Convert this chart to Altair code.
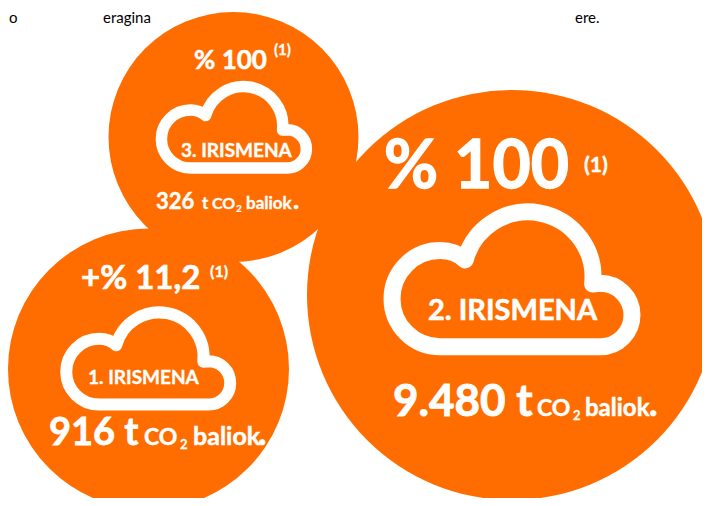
import altair as alt
import pandas as pd

ORANGE = "#FF6D00"
FONT = "Lato"

# circles
circle_x = [148.5, 233.5, 512]
circle_y = [369, 137, 295]
circle_d = [281, 250, 410]

# clouds
cloud_x = [148.7, 234.3, 512.7]
cloud_y = [357.8, 126.7, 278.3]
cloud_w = [164, 145, 240]
cloud_sw = [12, 11.5, 17]
CLOUD = ("M 0.666 0.047 A 0.542 0.542 0 0 0 -0.396 -0.153 Q -0.48 -0.231 -0.605 -0.231 "
         "A 0.4 0.4 0 0 0 -0.605 0.570 L 0.730 0.570 A 0.264 0.264 0 0 0 0.730 0.042 L 0.666 0.047")

# white labels
labels = ["% 100", "(1)", "3. IRISMENA", "326", "t", "CO", "2", "baliok", ".",
          "% 100", "(1)", "2. IRISMENA", "9.480 t", "CO", "2", "baliok", ".",
          "+% 11,2", "(1)", "1. IRISMENA", "916 t", "CO", "2", "baliok", "."]
label_x = [194, 274, 181, 156, 202, 212, 236, 246, 293,
           384, 584, 428, 393, 537, 573, 585, 649,
           81, 210, 88, 49, 144, 180, 193, 258]
label_y = [69, 55, 157, 209, 209, 209, 212, 209, 209,
           188, 172, 320, 416, 416, 420, 416, 416,
           289, 277, 384, 445, 445, 449, 445, 445]
label_fs = [26, 15, 19, 22, 17, 16, 10, 17, 26,
            66, 21, 29, 44, 23, 13, 24, 36,
            33, 16, 19, 38, 23, 13, 25, 36]

# page text at the top
top_text = ["eragina", "ere.", "o"]
top_x = [103, 575, 9]
top_y = [23, 23, 23]

X = alt.Scale(domain=[8, 702])
Y = alt.Scale(domain=[498, 8])

circles = alt.Chart(pd.DataFrame({"x": circle_x, "y": circle_y, "d": circle_d})).transform_calculate(
    s="datum.d*datum.d"
).mark_point(filled=True, shape="circle", color=ORANGE, opacity=1).encode(
    x=alt.X("x:Q", scale=X, axis=None),
    y=alt.Y("y:Q", scale=Y, axis=None),
    size=alt.Size("s:Q", scale=None, legend=None),
)

clouds = alt.Chart(pd.DataFrame({"x": cloud_x, "y": cloud_y, "w": cloud_w, "sw": cloud_sw})).transform_calculate(
    s="datum.w*datum.w"
).mark_point(filled=False, shape=CLOUD, stroke="white", opacity=1, strokeCap="round", strokeJoin="round").encode(
    x=alt.X("x:Q", scale=X, axis=None),
    y=alt.Y("y:Q", scale=Y, axis=None),
    size=alt.Size("s:Q", scale=None, legend=None),
    strokeWidth=alt.StrokeWidth("sw:Q", scale=None, legend=None),
)

texts = alt.Chart(pd.DataFrame({"t": labels, "x": label_x, "y": label_y, "fs": label_fs})).transform_calculate(
    sw="datum.fs*0.02"
).mark_text(
    align="left", baseline="alphabetic", font=FONT, fontWeight="bold", color="white", stroke="white"
).encode(
    x=alt.X("x:Q", scale=X, axis=None),
    y=alt.Y("y:Q", scale=Y, axis=None),
    size=alt.Size("fs:Q", scale=None, legend=None),
    strokeWidth=alt.StrokeWidth("sw:Q", scale=None, legend=None),
    text="t:N",
)

top = alt.Chart(pd.DataFrame({"t": top_text, "x": top_x, "y": top_y})).mark_text(
    align="left", baseline="alphabetic", font=FONT, fontSize=15, color="black"
).encode(
    x=alt.X("x:Q", scale=X, axis=None),
    y=alt.Y("y:Q", scale=Y, axis=None),
    text="t:N",
)

chart = alt.layer(top, circles, clouds, texts).properties(
    width=694, height=490, padding=0,
    autosize=alt.AutoSizeParams(type="none"),
    background="white",
).configure_view(stroke=None)

chart.save("out.html", embed_options={"renderer": "svg", "actions": False})
